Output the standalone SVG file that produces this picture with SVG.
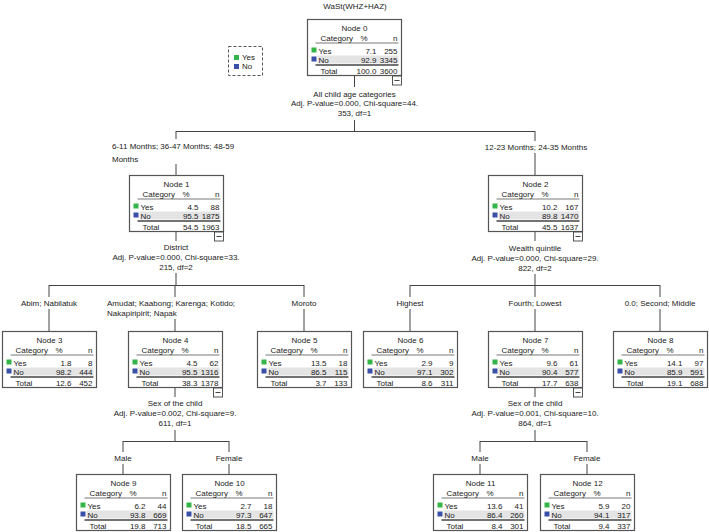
<svg xmlns="http://www.w3.org/2000/svg" width="709" height="532" viewBox="0 0 709 532">
<style>
text{font-family:"Liberation Sans",Arial,sans-serif;font-size:8px;fill:#222}
.m{text-anchor:middle}
.e{text-anchor:end}
.box{fill:#fff;stroke:#555;stroke-width:1.2}
.ln{stroke:#444;stroke-width:1;fill:none}
.hl{stroke:#555;stroke-width:0.8}
.dl{stroke:#444;stroke-width:1.3}
.bar{fill:#e4e4e4}
.g{fill:#35b549}
.b{fill:#3a4fa8}
.mb{fill:#fff;stroke:#444;stroke-width:0.9}
.leg{fill:#fff;stroke:#555;stroke-width:1;stroke-dasharray:3 2}
</style>
<defs>
<g id="frame">
<rect class="box" x="0" y="0" width="94" height="56"/>
<line class="hl" x1="8" y1="23.5" x2="91" y2="23.5"/>
<rect class="bar" x="10" y="36" width="81" height="8"/>
<rect class="g" x="4" y="28" width="5" height="5"/>
<rect class="b" x="4" y="37" width="5" height="5"/>
<line class="dl" x1="8" y1="45.5" x2="91" y2="45.5"/>
</g>
<g id="minus">
<rect class="mb" x="85" y="56.5" width="9" height="9"/>
<line class="ln" x1="87" y1="61" x2="92" y2="61"/>
</g>
</defs>

<text class="m" x="355" y="9">WaSt(WHZ+HAZ)</text>

<g id="legend">
<rect class="leg" x="228.5" y="46.5" width="34" height="29"/>
<rect class="g" x="234" y="55" width="5" height="5"/>
<text x="242" y="60">Yes</text>
<rect class="b" x="234" y="64" width="5" height="5"/>
<text x="242" y="69">No</text>
</g>

<g id="connectors">
<line class="ln" x1="354.5" y1="76" x2="354.5" y2="87"/>
<line class="ln" x1="354.5" y1="120" x2="354.5" y2="131"/>
<line class="ln" x1="176" y1="131.5" x2="535" y2="131.5"/>
<line class="ln" x1="176" y1="131" x2="176" y2="139"/>
<line class="ln" x1="176" y1="164" x2="176" y2="175"/>
<line class="ln" x1="535" y1="131" x2="535" y2="141"/>
<line class="ln" x1="535" y1="153" x2="535" y2="175"/>

<line class="ln" x1="176" y1="231" x2="176" y2="241"/>
<line class="ln" x1="176" y1="273" x2="176" y2="285"/>
<line class="ln" x1="49" y1="285.5" x2="304" y2="285.5"/>
<line class="ln" x1="49" y1="285" x2="49" y2="297"/>
<line class="ln" x1="49" y1="309" x2="49" y2="331"/>
<line class="ln" x1="175" y1="285" x2="175" y2="297"/>
<line class="ln" x1="175" y1="319" x2="175" y2="331"/>
<line class="ln" x1="304" y1="285" x2="304" y2="297"/>
<line class="ln" x1="304" y1="309" x2="304" y2="331"/>

<line class="ln" x1="535" y1="231" x2="535" y2="241"/>
<line class="ln" x1="535" y1="274" x2="535" y2="285"/>
<line class="ln" x1="410" y1="285.5" x2="660" y2="285.5"/>
<line class="ln" x1="410" y1="285" x2="410" y2="297"/>
<line class="ln" x1="410" y1="309" x2="410" y2="331"/>
<line class="ln" x1="535" y1="285" x2="535" y2="297"/>
<line class="ln" x1="535" y1="309" x2="535" y2="331"/>
<line class="ln" x1="660" y1="285" x2="660" y2="297"/>
<line class="ln" x1="660" y1="309" x2="660" y2="331"/>

<line class="ln" x1="175" y1="387" x2="175" y2="397"/>
<line class="ln" x1="175" y1="430" x2="175" y2="441"/>
<line class="ln" x1="123" y1="441.5" x2="229" y2="441.5"/>
<line class="ln" x1="123" y1="441" x2="123" y2="452"/>
<line class="ln" x1="123" y1="464" x2="123" y2="474"/>
<line class="ln" x1="229" y1="441" x2="229" y2="452"/>
<line class="ln" x1="229" y1="464" x2="229" y2="474"/>

<line class="ln" x1="535" y1="387" x2="535" y2="397"/>
<line class="ln" x1="535" y1="430" x2="535" y2="441"/>
<line class="ln" x1="480" y1="441.5" x2="587" y2="441.5"/>
<line class="ln" x1="480" y1="441" x2="480" y2="452"/>
<line class="ln" x1="480" y1="464" x2="480" y2="474"/>
<line class="ln" x1="587" y1="441" x2="587" y2="452"/>
<line class="ln" x1="587" y1="464" x2="587" y2="474"/>

<text class="m" x="354.5" y="97">All child age categories</text>
<text class="m" x="354.5" y="106">Adj. P-value=0.000, Chi-square=44.</text>
<text class="m" x="354.5" y="116">353, df=1</text>
<text x="112" y="149">6-11 Months; 36-47 Months; 48-59</text>
<text x="112" y="162">Months</text>
<text class="m" x="536" y="150">12-23 Months; 24-35 Months</text>

<text class="m" x="176" y="250">District</text>
<text class="m" x="176" y="260">Adj. P-value=0.000, Chi-square=33.</text>
<text class="m" x="176" y="270">215, df=2</text>
<text class="m" x="49" y="306">Abim; Nabilatuk</text>
<text x="107" y="306">Amudat; Kaabong; Karenga; Kotido;</text>
<text x="107" y="316">Nakapiripirit; Napak</text>
<text class="m" x="304" y="306">Moroto</text>

<text class="m" x="535" y="251">Wealth quintile</text>
<text class="m" x="535" y="261">Adj. P-value=0.000, Chi-square=29.</text>
<text class="m" x="535" y="271">822, df=2</text>
<text class="m" x="410" y="306">Highest</text>
<text class="m" x="535" y="306">Fourth; Lowest</text>
<text class="m" x="660" y="306">0.0; Second; Middle</text>

<text class="m" x="175" y="406">Sex of the child</text>
<text class="m" x="175" y="416">Adj. P-value=0.002, Chi-square=9.</text>
<text class="m" x="175" y="426">611, df=1</text>
<text class="m" x="123" y="461">Male</text>
<text class="m" x="229" y="461">Female</text>

<text class="m" x="535" y="406">Sex of the child</text>
<text class="m" x="535" y="416">Adj. P-value=0.001, Chi-square=10.</text>
<text class="m" x="535" y="426">864, df=1</text>
<text class="m" x="480" y="461">Male</text>
<text class="m" x="587" y="461">Female</text>
</g>

<g id="node0" transform="translate(307.5,19.5)">
<use href="#frame"/><use href="#minus"/>
<text class="m" x="47" y="11">Node 0</text>
<text x="13" y="21">Category</text><text class="e" x="60" y="21">%</text><text class="e" x="90" y="21">n</text>
<text x="11" y="34">Yes</text><text class="e" x="69" y="34">7.1</text><text class="e" x="90" y="34">255</text>
<text x="11" y="43">No</text><text class="e" x="69" y="43">92.9</text><text class="e" x="90" y="43">3345</text>
<text x="13" y="54">Total</text><text class="e" x="69" y="54">100.0</text><text class="e" x="90" y="54">3600</text>
</g>

<g id="node1" transform="translate(129.5,175.5)">
<use href="#frame"/><use href="#minus"/>
<text class="m" x="47" y="11">Node 1</text>
<text x="13" y="21">Category</text><text class="e" x="60" y="21">%</text><text class="e" x="90" y="21">n</text>
<text x="11" y="34">Yes</text><text class="e" x="69" y="34">4.5</text><text class="e" x="90" y="34">88</text>
<text x="11" y="43">No</text><text class="e" x="69" y="43">95.5</text><text class="e" x="90" y="43">1875</text>
<text x="13" y="54">Total</text><text class="e" x="69" y="54">54.5</text><text class="e" x="90" y="54">1963</text>
</g>

<g id="node2" transform="translate(488.5,175.5)">
<use href="#frame"/><use href="#minus"/>
<text class="m" x="47" y="11">Node 2</text>
<text x="13" y="21">Category</text><text class="e" x="60" y="21">%</text><text class="e" x="90" y="21">n</text>
<text x="11" y="34">Yes</text><text class="e" x="69" y="34">10.2</text><text class="e" x="90" y="34">167</text>
<text x="11" y="43">No</text><text class="e" x="69" y="43">89.8</text><text class="e" x="90" y="43">1470</text>
<text x="13" y="54">Total</text><text class="e" x="69" y="54">45.5</text><text class="e" x="90" y="54">1637</text>
</g>

<g id="node3" transform="translate(2.5,331.5)">
<use href="#frame"/>
<text class="m" x="47" y="11">Node 3</text>
<text x="13" y="21">Category</text><text class="e" x="60" y="21">%</text><text class="e" x="90" y="21">n</text>
<text x="11" y="34">Yes</text><text class="e" x="69" y="34">1.8</text><text class="e" x="90" y="34">8</text>
<text x="11" y="43">No</text><text class="e" x="69" y="43">98.2</text><text class="e" x="90" y="43">444</text>
<text x="13" y="54">Total</text><text class="e" x="69" y="54">12.6</text><text class="e" x="90" y="54">452</text>
</g>

<g id="node4" transform="translate(128.5,331.5)">
<use href="#frame"/><use href="#minus"/>
<text class="m" x="47" y="11">Node 4</text>
<text x="13" y="21">Category</text><text class="e" x="60" y="21">%</text><text class="e" x="90" y="21">n</text>
<text x="11" y="34">Yes</text><text class="e" x="69" y="34">4.5</text><text class="e" x="90" y="34">62</text>
<text x="11" y="43">No</text><text class="e" x="69" y="43">95.5</text><text class="e" x="90" y="43">1316</text>
<text x="13" y="54">Total</text><text class="e" x="69" y="54">38.3</text><text class="e" x="90" y="54">1378</text>
</g>

<g id="node5" transform="translate(257.5,331.5)">
<use href="#frame"/>
<text class="m" x="47" y="11">Node 5</text>
<text x="13" y="21">Category</text><text class="e" x="60" y="21">%</text><text class="e" x="90" y="21">n</text>
<text x="11" y="34">Yes</text><text class="e" x="69" y="34">13.5</text><text class="e" x="90" y="34">18</text>
<text x="11" y="43">No</text><text class="e" x="69" y="43">86.5</text><text class="e" x="90" y="43">115</text>
<text x="13" y="54">Total</text><text class="e" x="69" y="54">3.7</text><text class="e" x="90" y="54">133</text>
</g>

<g id="node6" transform="translate(363.5,331.5)">
<use href="#frame"/>
<text class="m" x="47" y="11">Node 6</text>
<text x="13" y="21">Category</text><text class="e" x="60" y="21">%</text><text class="e" x="90" y="21">n</text>
<text x="11" y="34">Yes</text><text class="e" x="69" y="34">2.9</text><text class="e" x="90" y="34">9</text>
<text x="11" y="43">No</text><text class="e" x="69" y="43">97.1</text><text class="e" x="90" y="43">302</text>
<text x="13" y="54">Total</text><text class="e" x="69" y="54">8.6</text><text class="e" x="90" y="54">311</text>
</g>

<g id="node7" transform="translate(488.5,331.5)">
<use href="#frame"/><use href="#minus"/>
<text class="m" x="47" y="11">Node 7</text>
<text x="13" y="21">Category</text><text class="e" x="60" y="21">%</text><text class="e" x="90" y="21">n</text>
<text x="11" y="34">Yes</text><text class="e" x="69" y="34">9.6</text><text class="e" x="90" y="34">61</text>
<text x="11" y="43">No</text><text class="e" x="69" y="43">90.4</text><text class="e" x="90" y="43">577</text>
<text x="13" y="54">Total</text><text class="e" x="69" y="54">17.7</text><text class="e" x="90" y="54">638</text>
</g>

<g id="node8" transform="translate(613.5,331.5)">
<use href="#frame"/>
<text class="m" x="47" y="11">Node 8</text>
<text x="13" y="21">Category</text><text class="e" x="60" y="21">%</text><text class="e" x="90" y="21">n</text>
<text x="11" y="34">Yes</text><text class="e" x="69" y="34">14.1</text><text class="e" x="90" y="34">97</text>
<text x="11" y="43">No</text><text class="e" x="69" y="43">85.9</text><text class="e" x="90" y="43">591</text>
<text x="13" y="54">Total</text><text class="e" x="69" y="54">19.1</text><text class="e" x="90" y="54">688</text>
</g>

<g id="node9" transform="translate(76.5,474.5)">
<use href="#frame"/>
<text class="m" x="47" y="11">Node 9</text>
<text x="13" y="21">Category</text><text class="e" x="60" y="21">%</text><text class="e" x="90" y="21">n</text>
<text x="11" y="34">Yes</text><text class="e" x="69" y="34">6.2</text><text class="e" x="90" y="34">44</text>
<text x="11" y="43">No</text><text class="e" x="69" y="43">93.8</text><text class="e" x="90" y="43">669</text>
<text x="13" y="54">Total</text><text class="e" x="69" y="54">19.8</text><text class="e" x="90" y="54">713</text>
</g>

<g id="node10" transform="translate(182.5,474.5)">
<use href="#frame"/>
<text class="m" x="47" y="11">Node 10</text>
<text x="13" y="21">Category</text><text class="e" x="60" y="21">%</text><text class="e" x="90" y="21">n</text>
<text x="11" y="34">Yes</text><text class="e" x="69" y="34">2.7</text><text class="e" x="90" y="34">18</text>
<text x="11" y="43">No</text><text class="e" x="69" y="43">97.3</text><text class="e" x="90" y="43">647</text>
<text x="13" y="54">Total</text><text class="e" x="69" y="54">18.5</text><text class="e" x="90" y="54">665</text>
</g>

<g id="node11" transform="translate(433.5,474.5)">
<use href="#frame"/>
<text class="m" x="47" y="11">Node 11</text>
<text x="13" y="21">Category</text><text class="e" x="60" y="21">%</text><text class="e" x="90" y="21">n</text>
<text x="11" y="34">Yes</text><text class="e" x="69" y="34">13.6</text><text class="e" x="90" y="34">41</text>
<text x="11" y="43">No</text><text class="e" x="69" y="43">86.4</text><text class="e" x="90" y="43">260</text>
<text x="13" y="54">Total</text><text class="e" x="69" y="54">8.4</text><text class="e" x="90" y="54">301</text>
</g>

<g id="node12" transform="translate(540.5,474.5)">
<use href="#frame"/>
<text class="m" x="47" y="11">Node 12</text>
<text x="13" y="21">Category</text><text class="e" x="60" y="21">%</text><text class="e" x="90" y="21">n</text>
<text x="11" y="34">Yes</text><text class="e" x="69" y="34">5.9</text><text class="e" x="90" y="34">20</text>
<text x="11" y="43">No</text><text class="e" x="69" y="43">94.1</text><text class="e" x="90" y="43">317</text>
<text x="13" y="54">Total</text><text class="e" x="69" y="54">9.4</text><text class="e" x="90" y="54">337</text>
</g>
</svg>
